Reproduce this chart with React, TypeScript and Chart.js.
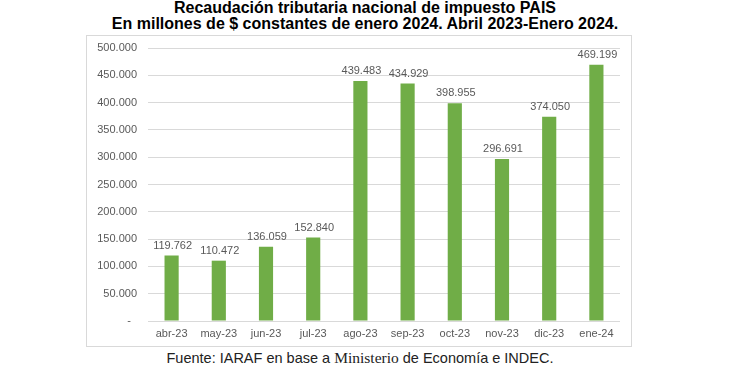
import React, { useEffect, useRef } from 'react';
import { Chart, registerables } from 'chart.js';

Chart.register(...registerables);

const categories = ['abr-23', 'may-23', 'jun-23', 'jul-23', 'ago-23', 'sep-23', 'oct-23', 'nov-23', 'dic-23', 'ene-24'];
const values = [119762, 110472, 136059, 152840, 439483, 434929, 398955, 296691, 374050, 469199];
const yMin = 0;
const yMax = 500000;
const yStep = 50000;

const titleLine1 = 'Recaudación tributaria nacional de impuesto PAIS';
const titleLine2 = 'En millones de $ constantes de enero 2024. Abril 2023-Enero 2024.';

const fmt = (v: number): string => String(Math.round(v)).replace(/\B(?=(\d{3})+(?!\d))/g, '.');

const labelsPlugin = {
  id: 'valueLabels',
  afterDatasetsDraw(chart: any) {
    const ctx = chart.ctx;
    const meta = chart.getDatasetMeta(0);
    ctx.save();
    ctx.font = '11px "Liberation Sans", Arial, sans-serif';
    ctx.fillStyle = '#595959';
    ctx.textAlign = 'center';
    ctx.textBaseline = 'middle';
    meta.data.forEach((el: any, i: number) => {
      ctx.fillText(fmt(values[i]), el.x + 1, el.y - 10);
    });
    ctx.restore();
  },
};

export default function App() {
  const ref = useRef<HTMLCanvasElement | null>(null);

  useEffect(() => {
    if (!ref.current) return;
    const chart = new Chart(ref.current, {
      type: 'bar',
      data: {
        labels: categories,
        datasets: [
          {
            data: values,
            backgroundColor: '#70AD47',
            borderWidth: 0,
            barPercentage: 0.3,
            categoryPercentage: 1,
          },
        ],
      },
      options: {
        responsive: false,
        animation: false,
        events: [],
        layout: { padding: { top: 13, right: 12, bottom: 0, left: 0 } },
        plugins: {
          legend: { display: false },
          tooltip: { enabled: false },
          title: { display: false },
        },
        scales: {
          x: {
            grid: { display: false, drawTicks: false },
            border: { display: false },
            ticks: {
              color: '#595959',
              font: { family: '"Liberation Sans", Arial, sans-serif', size: 11 },
              padding: 6,
              maxRotation: 0,
              autoSkip: false,
            },
            afterFit: (s: any) => {
              s.height = 26;
              s.paddingLeft = 0;
              s.paddingRight = 0;
            },
          },
          y: {
            min: yMin,
            max: yMax,
            grid: { color: '#d9d9d9', drawTicks: false, lineWidth: 1 },
            border: { display: false },
            ticks: {
              stepSize: yStep,
              color: '#595959',
              font: { family: '"Liberation Sans", Arial, sans-serif', size: 11 },
              padding: 11,
              callback: (v: any) => (Number(v) === 0 ? '-  ' : fmt(Number(v))),
            },
            afterFit: (s: any) => {
              s.width = 62;
              s.paddingTop = 0;
              s.paddingBottom = 0;
            },
          },
        },
      },
      plugins: [labelsPlugin],
    });
    return () => chart.destroy();
  }, []);

  return (
    <div style={{ position: 'absolute', left: 0, top: 0, width: 730, height: 368, background: '#fff', overflow: 'hidden' }}>
      <div
        style={{
          position: 'absolute',
          left: 0,
          top: 0,
          width: 730,
          textAlign: 'center',
          fontFamily: '"Liberation Sans Narrow", "Arial Narrow", "Liberation Sans", sans-serif',
          fontWeight: 'bold',
          fontSize: 16,
          lineHeight: '16px',
          color: '#000',
        }}
      >
        <div>{titleLine1}</div>
        <div>{titleLine2}</div>
      </div>
      <div
        style={{
          position: 'absolute',
          left: 86,
          top: 35,
          width: 546,
          height: 312,
          boxSizing: 'border-box',
          border: '1px solid #d9d9d9',
        }}
      />
      <canvas
        ref={ref}
        width={546}
        height={312}
        style={{ position: 'absolute', left: 86, top: 35, width: 546, height: 312 }}
      />
      <div
        style={{
          position: 'absolute',
          left: 0,
          top: 350,
          width: 720,
          textAlign: 'center',
          fontFamily: '"Liberation Sans", Arial, sans-serif',
          fontSize: 14.5,
          lineHeight: '16px',
          color: '#222',
        }}
      >
        Fuente: IARAF en base a <span style={{ fontFamily: '"Liberation Serif", "Times New Roman", serif', fontSize: 15.5 }}>Ministerio</span> de Economía e INDEC.
      </div>
    </div>
  );
}
